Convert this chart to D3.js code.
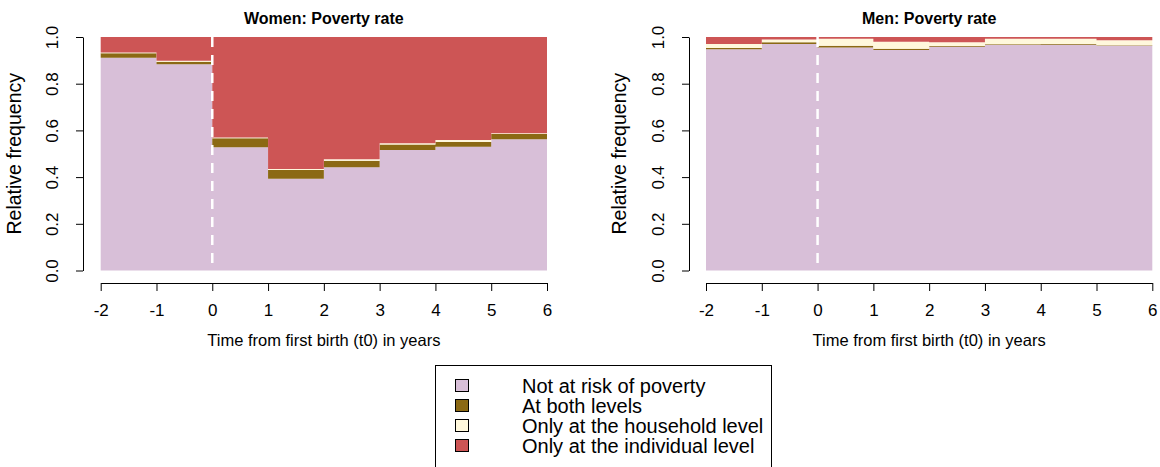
<!DOCTYPE html>
<html>
<head>
<meta charset="utf-8">
<script src="https://cdn.jsdelivr.net/npm/d3@7"></script>
<style>
  html, body { margin: 0; padding: 0; background: #ffffff; }
  svg { display: block; font-family: "Liberation Sans", Arial, sans-serif; }
</style>
</head>
<body>
<svg id="chart" width="1160" height="467"></svg>
<script>
// Start year of each one-year interval around the first birth (t0)
const years = [-2, -1, 0, 1, 2, 3, 4, 5];
const xTicks = [-2, -1, 0, 1, 2, 3, 4, 5, 6];
const yTicks = [0, 0.2, 0.4, 0.6, 0.8, 1.0];

// Poverty status shares, women
const womenNotAtRisk   = [0.911, 0.883, 0.528, 0.393, 0.442, 0.516, 0.530, 0.562];
const womenBoth        = [0.019, 0.011, 0.038, 0.037, 0.028, 0.024, 0.020, 0.023];
const womenHousehold   = [0.004, 0.004, 0.004, 0.005, 0.006, 0.005, 0.009, 0.003];
const womenIndividual  = [0.066, 0.102, 0.430, 0.565, 0.524, 0.455, 0.441, 0.412];

// Poverty status shares, men
const menNotAtRisk     = [0.948, 0.970, 0.955, 0.944, 0.958, 0.966, 0.967, 0.963];
const menBoth          = [0.005, 0.008, 0.008, 0.006, 0.003, 0.003, 0.003, 0.002];
const menHousehold     = [0.017, 0.011, 0.030, 0.030, 0.016, 0.024, 0.022, 0.021];
const menIndividual    = [0.030, 0.011, 0.007, 0.020, 0.023, 0.007, 0.008, 0.014];

const seriesKeys = ["notAtRisk", "both", "household", "individual"];
const seriesLabels = [
  "Not at risk of poverty",
  "At both levels",
  "Only at the household level",
  "Only at the individual level"
];
const seriesColors = ["#D8BFD8", "#8B6914", "#FFF8DC", "#CD5555"];

const panels = [
  { title: "Women: Poverty rate", left: 100.7, yAxisX: 83, tickLabelX: 52, yTitleX: 14,
    values: [womenNotAtRisk, womenBoth, womenHousehold, womenIndividual] },
  { title: "Men: Poverty rate", left: 706, yAxisX: 689, tickLabelX: 658, yTitleX: 619,
    values: [menNotAtRisk, menBoth, menHousehold, menIndividual] }
];

const svg = d3.select("#chart");
const plotWidth = 446.3;
const plotTop = 37, plotBottom = 270.5;
const xAxisY = 283;

const color = d3.scaleOrdinal().domain(seriesKeys).range(seriesColors);

panels.forEach(p => {
  const x = d3.scaleLinear().domain([-2, 6]).range([p.left, p.left + plotWidth]);
  const y = d3.scaleLinear().domain([0, 1]).range([plotBottom, plotTop]);

  // one row per interval, plus a closing row at t = 6 for the step shape
  const rows = years.map((yr, i) => {
    const r = { year: yr };
    seriesKeys.forEach((k, j) => r[k] = p.values[j][i]);
    return r;
  });
  const last = Object.assign({}, rows[rows.length - 1], { year: 6 });
  const stacked = d3.stack().keys(seriesKeys)(rows.concat([last]));

  const area = d3.area()
    .curve(d3.curveStepAfter)
    .x(d => x(d.data.year))
    .y0(d => y(d[0]))
    .y1(d => y(d[1]));

  const g = svg.append("g");
  g.selectAll("path.band")
    .data(stacked)
    .join("path")
    .attr("class", "band")
    .attr("fill", d => color(d.key))
    .attr("d", area);

  // t0 marker
  g.append("line")
    .attr("x1", x(0)).attr("x2", x(0))
    .attr("y1", y(1)).attr("y2", y(0))
    .attr("stroke", "#ffffff")
    .attr("stroke-width", 2.5)
    .attr("stroke-dasharray", "10,8");

  // title
  g.append("text")
    .attr("x", x(2)).attr("y", 24)
    .attr("text-anchor", "middle")
    .attr("font-weight", "bold")
    .attr("font-size", 16)
    .attr("fill", "#000")
    .text(p.title);

  // x axis
  const xAxis = d3.axisBottom(x).tickValues(xTicks).tickFormat(d3.format("d"))
    .tickSize(8).tickPadding(13).tickSizeOuter(0);
  const gx = g.append("g").attr("transform", `translate(0,${xAxisY})`).call(xAxis);
  gx.select(".domain").attr("stroke", "#000");
  gx.selectAll(".tick line").attr("stroke", "#000");
  gx.selectAll(".tick text").attr("font-size", 17).attr("fill", "#000")
    .attr("font-family", "Liberation Sans, Arial, sans-serif")
    .text(d => d < 0 ? "-" + Math.abs(d) : d);

  g.append("text")
    .attr("x", x(2)).attr("y", 346)
    .attr("text-anchor", "middle")
    .attr("font-size", 16.5)
    .attr("fill", "#000")
    .text("Time from first birth (t0) in years");

  // y axis
  const yAxis = d3.axisLeft(y).tickValues(yTicks).tickFormat(d3.format(".1f"))
    .tickSize(7).tickSizeOuter(0);
  const gy = g.append("g").attr("transform", `translate(${p.yAxisX},0)`).call(yAxis);
  gy.select(".domain").attr("stroke", "#000");
  gy.selectAll(".tick line").attr("stroke", "#000");
  gy.selectAll(".tick text")
    .attr("font-size", 17).attr("fill", "#000")
    .attr("font-family", "Liberation Sans, Arial, sans-serif")
    .attr("text-anchor", "middle")
    .attr("dy", null)
    .attr("x", null)
    .attr("transform", d => `translate(${p.tickLabelX - p.yAxisX},0) rotate(-90)`)
    .attr("dominant-baseline", "central");

  g.append("text")
    .attr("transform", `translate(${p.yTitleX},${(plotTop + plotBottom) / 2}) rotate(-90)`)
    .attr("text-anchor", "middle")
    .attr("dominant-baseline", "central")
    .attr("font-size", 19.5)
    .attr("fill", "#000")
    .text("Relative frequency");
});

// legend
const legend = svg.append("g");
legend.append("rect")
  .attr("x", 435.5).attr("y", 365.5)
  .attr("width", 336).attr("height", 110)
  .attr("fill", "none").attr("stroke", "#000").attr("stroke-width", 1);

const rowY = d3.scalePoint().domain(seriesKeys).range([386, 446]);
const items = legend.selectAll("g.item")
  .data(seriesKeys)
  .join("g")
  .attr("class", "item")
  .attr("transform", d => `translate(0,${rowY(d)})`);
items.append("rect")
  .attr("x", 455.5).attr("y", -6.5)
  .attr("width", 13).attr("height", 12)
  .attr("fill", d => color(d))
  .attr("stroke", "#000").attr("stroke-width", 1);
items.append("text")
  .attr("x", 522).attr("y", 0)
  .attr("dominant-baseline", "central")
  .attr("font-size", 20)
  .attr("fill", "#000")
  .text((d, i) => seriesLabels[i]);
</script>
</body>
</html>
